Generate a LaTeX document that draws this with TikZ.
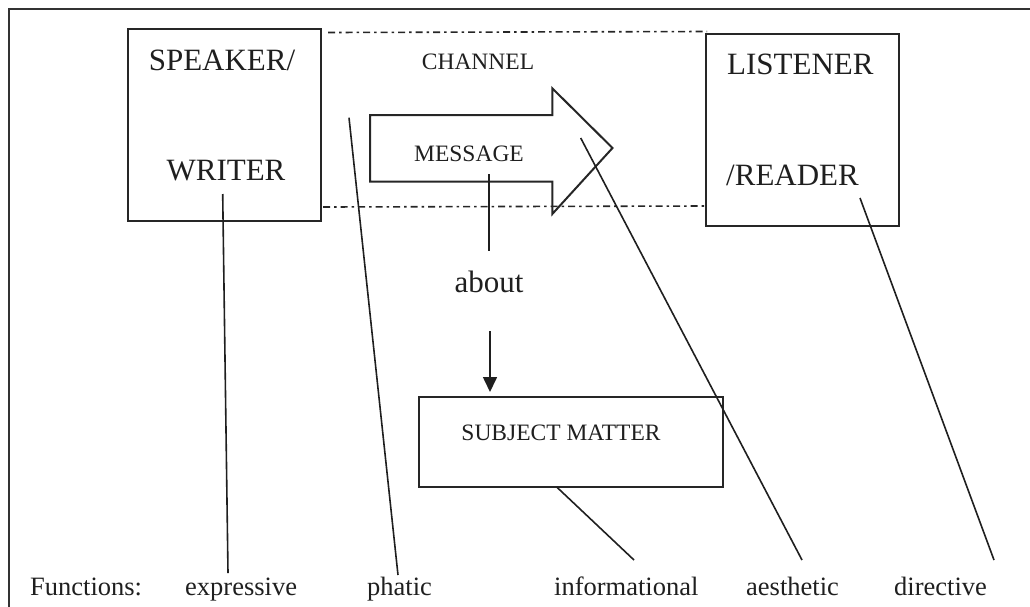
\documentclass[tikz,border=0pt]{standalone}
\usepackage{fontspec}
\setmainfont{Liberation Serif}
\usetikzlibrary{arrows.meta}
\begin{document}
\begin{tikzpicture}[x=1pt,y=-1pt,
  ln/.style={line width=1.6pt, draw=black!88},
  boxst/.style={draw=black!85, line width=2pt, inner sep=0pt},
  bigtxt/.style={font=\fontsize{31}{31}\selectfont, inner sep=0pt, anchor=base, text=black!88},
  midtxt/.style={font=\fontsize{23.5}{23.5}\selectfont, inner sep=0pt, anchor=base, text=black!88},
  fntxt/.style={font=\fontsize{26.5}{26.5}\selectfont, inner sep=0pt, anchor=base, text=black!88},
  dashdot/.style={line width=1.6pt, draw=black!85, dash pattern=on 7pt off 4pt on 2.5pt off 4pt}]
\useasboundingbox (0,0) rectangle (1030,606);
\clip (0,0) rectangle (1030,606);
% outer frame
\draw[line width=2pt, draw=black!80] (9,640) -- (9,9) -- (1060,9);
% boxes
\node[boxst, minimum width=193pt, minimum height=192pt] (spk) at (224.5,125) {};
\node[boxst, minimum width=193pt, minimum height=192pt] (lst) at (802.5,130) {};
\node[boxst, minimum width=304pt, minimum height=90pt] (subj) at (570.5,442) {};
% texts
\node[bigtxt] (t1) at (222,70) {SPEAKER/};
\node[bigtxt] (t2) at (226,180) {WRITER};
\node[bigtxt, anchor=base west] (t3) at (727,74) {LISTENER};
\node[bigtxt, anchor=base west] (t4) at (726,185) {/READER};
\node[midtxt] (t5) at (478,69) {CHANNEL};
\node[bigtxt] (t7) at (489,292) {about};
\node[midtxt] (t8) at (561,440) {SUBJECT MATTER};
\node[fntxt, anchor=base west] (f0) at (30,595) {Functions:};
\node[fntxt, anchor=base west] (f1) at (185,595) {expressive};
\node[fntxt, anchor=base west] (f2) at (367,595) {phatic};
\node[fntxt, anchor=base west] (f3) at (554,595) {informational};
\node[fntxt, anchor=base west] (f4) at (746,595) {aesthetic};
\node[fntxt, anchor=base west] (f5) at (894,595) {directive};
% channel dash-dot lines
\coordinate (c1a) at (328,32.5);
\coordinate (c1b) at (707,31.5);
\coordinate (c2a) at (323,207);
\coordinate (c2b) at (705,206);
\draw[dashdot] (c1a) -- (c1b);
\draw[dashdot] (c2a) -- (c2b);
% block arrow
\draw[line width=2pt, draw=black!85]
  (370,115) -- (552.3,115) -- (552.3,88.3) -- (612.5,148) -- (552.3,214) -- (552.3,181.7) -- (370,181.7) -- cycle;
\node[midtxt] (t6) at (469,161) {MESSAGE};
% connectors
\coordinate (m1) at (489,174);
\coordinate (m2) at (489,251);
\draw[ln] (m1) -- (m2);
\coordinate (a1) at (490,331);
\coordinate (a2) at (490,392);
\draw[ln, -{Triangle[length=15pt, width=14pt]}] (a1) -- (a2);
\coordinate (e1) at (222.7,194);
\coordinate (e2) at (228,573);
\draw[ln] (e1) -- (e2);
\coordinate (p1) at (349,117.7);
\coordinate (p2) at (398,575);
\draw[ln] (p1) -- (p2);
\coordinate (i1) at (556.7,487);
\coordinate (i2) at (634,560);
\draw[ln] (i1) -- (i2);
\coordinate (s1) at (580.7,138);
\coordinate (s2) at (802,560);
\draw[ln] (s1) -- (s2);
\coordinate (d1) at (860,198);
\coordinate (d2) at (994,560);
\draw[ln] (d1) -- (d2);
\end{tikzpicture}
\end{document}
